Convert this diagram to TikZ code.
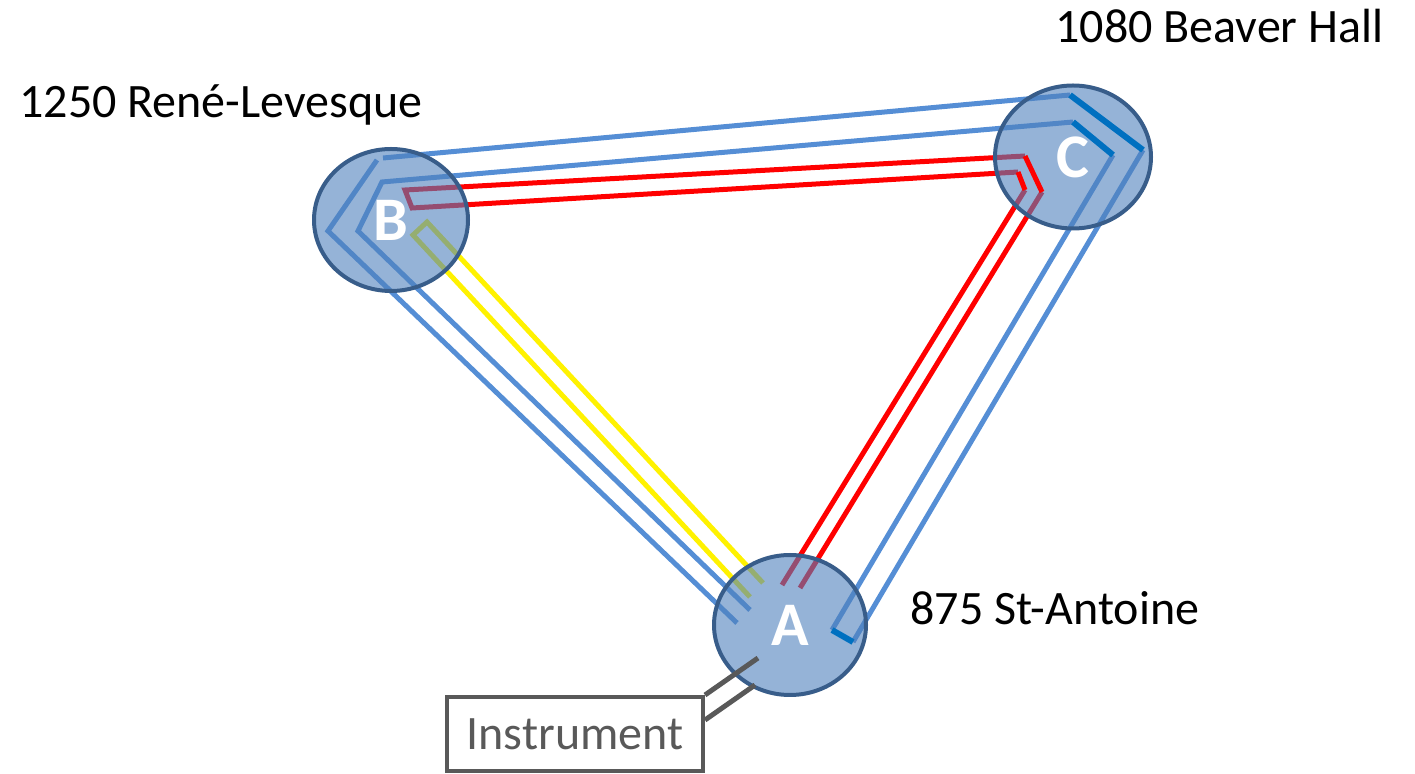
\documentclass[tikz,border=0pt]{standalone}
\usepackage{fontspec}
\setmainfont{Carlito}
\usetikzlibrary{shapes.geometric,calc}
\definecolor{lightblue}{HTML}{558ED5}
\definecolor{darkblue}{HTML}{0070C0}
\definecolor{sitefill}{HTML}{4F81BD}
\definecolor{siteborder}{HTML}{385D8A}
\definecolor{instgray}{HTML}{595959}
\begin{document}
\begin{tikzpicture}[x=0.5pt,y=-0.5pt,
  wire/.style={line width=2.5pt},
  lb/.style={wire,draw=lightblue},
  db/.style={line width=3pt,draw=darkblue},
  rd/.style={wire,draw=red},
  yl/.style={wire,draw=yellow},
  gl/.style={line width=2.5pt,draw=instgray},
  site/.style={ellipse,draw=siteborder,line width=2pt,fill=sitefill,fill opacity=0.6,
    text opacity=1,text=white,font=\bfseries\fontsize{31pt}{31pt}\selectfont,inner sep=0pt},
  lbl/.style={font=\fontsize{24pt}{28pt}\selectfont,text=black,inner sep=0pt,anchor=base west},
  instbox/.style={draw=instgray,line width=2pt,text=instgray,fill=white,
    font=\fontsize{24pt}{28pt}\selectfont,minimum width=128pt,minimum height=37pt,inner sep=0pt}]
\useasboundingbox (0,0) rectangle (1415,774);
% blue loop points
\coordinate (bA1) at (737,623);
\coordinate (bB1) at (328,231);
\coordinate (bB2) at (377,160);
\coordinate (bB3) at (383,158);
\coordinate (bC1) at (1070,95);
\coordinate (bC2) at (1143,150);
\coordinate (bA2) at (853,642);
\coordinate (bA3) at (832,630);
\coordinate (bC3) at (1113,155);
\coordinate (bC4) at (1073,122);
\coordinate (bB4) at (382,182);
\coordinate (bB5) at (358,231);
\coordinate (bA4) at (750,610);
% red loop points
\coordinate (rA1) at (800,588);
\coordinate (rC1) at (1042,192);
\coordinate (rC2) at (1025,156);
\coordinate (rB1) at (405,190);
\coordinate (rB2) at (412,208);
\coordinate (rC3) at (1018,172);
\coordinate (rC4) at (1025,190);
\coordinate (rA2) at (782,585);
% yellow loop points
\coordinate (yA1) at (750,597);
\coordinate (yB1) at (413,235);
\coordinate (yB2) at (427,222);
\coordinate (yA2) at (763,583);
% instrument ends
\coordinate (g1) at (758,658);
\coordinate (g2) at (755,685);

% wires under the sites
\draw[yl] (yA1) -- (yB1) -- (yB2) -- (yA2);
\draw[rd] (rA1) -- (rC1);
\draw[rd] (rC2) -- (rB1) -- (rB2) -- (rC3);
\draw[rd] (rC4) -- (rA2);
\draw[lb] (bA1) -- (bB1) -- (bB2);
\draw[lb] (bB3) -- (bC1);
\draw[lb] (bC2) -- (bA2);
\draw[lb] (bA3) -- (bC3);
\draw[lb] (bC4) -- (bB4) -- (bB5) -- (bA4);

% sites
\node[site,minimum width=77pt,minimum height=71pt] (B) at (391,220) {B};
\node[site,minimum width=78pt,minimum height=71.5pt] (C) at (1073,157) {C};
\node[site,minimum width=76pt,minimum height=70pt] (A) at (790,625) {A};

% wires over the sites
\draw[rd] (rC1) -- (rC2);
\draw[rd] (rC3) -- (rC4);
\draw[db] (bC1) -- (bC2);
\draw[db] (bC3) -- (bC4);
\draw[db] (bA2) -- (bA3);

% instrument
\node[instbox] (inst) at (575,734) {Instrument};
\draw[gl] (inst.north east) -- (g1);
\draw[gl] ([yshift=7pt]inst.east) -- (g2);

% labels
\node[lbl] (labC) at (1055,43) {1080 Beaver Hall};
\node[lbl] (labB) at (19,118) {1250 René-Levesque};
\node[lbl] (labA) at (910,625) {875 St-Antoine};
\end{tikzpicture}
\end{document}
